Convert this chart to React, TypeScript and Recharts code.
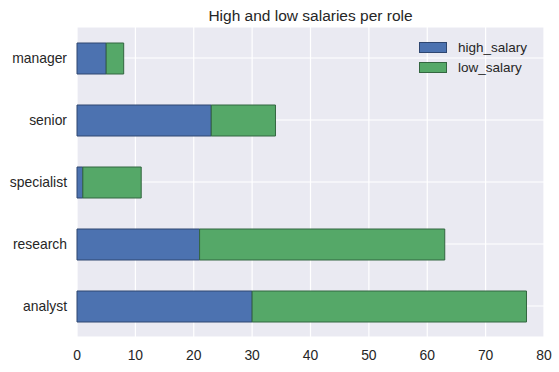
import React from "react";
import { Bar, BarChart, CartesianGrid, XAxis, YAxis } from "recharts";

const roles = ["manager", "senior", "specialist", "research", "analyst"];
const highSalary = [5, 23, 1, 21, 30];
const lowSalary = [3, 11, 10, 42, 47];
const xTicks = [0, 10, 20, 30, 40, 50, 60, 70, 80];

const data = roles.map((role, i) => ({
  role,
  high_salary: highSalary[i],
  low_salary: lowSalary[i],
}));

const FONT = "'Liberation Sans', Arial, sans-serif";
const TEXT = "#262626";

const series = [
  { key: "high_salary", fill: "#4C72B0", stroke: "#2e4670" },
  { key: "low_salary", fill: "#55A868", stroke: "#336640" },
];

// drawn as plain html on top of the plot, so it doesn't steal space from the bars
function SwatchLegend() {
  return (
    <div
      style={{
        position: "absolute",
        left: 419,
        top: 37,
        fontFamily: FONT,
        fontSize: 13.5,
        color: TEXT,
        zIndex: 2,
      }}
    >
      {series.map((s) => (
        <div key={s.key} style={{ display: "flex", alignItems: "center", height: 20 }}>
          <div
            style={{
              width: 26,
              height: 9,
              background: s.fill,
              border: `1px solid ${s.stroke}`,
              marginRight: 11,
            }}
          />
          <span>{s.key}</span>
        </div>
      ))}
    </div>
  );
}

export default function App() {
  return (
    <div
      style={{
        position: "fixed",
        left: 0,
        top: 0,
        width: 559,
        height: 372,
        background: "#fff",
      }}
    >
      <div
        style={{
          position: "absolute",
          left: 77,
          width: 467,
          top: 7,
          textAlign: "center",
          fontFamily: FONT,
          fontSize: 15.5,
          color: TEXT,
        }}
      >
        High and low salaries per role
      </div>
      <SwatchLegend />
      <BarChart
        width={559}
        height={372}
        data={data}
        layout="vertical"
        margin={{ top: 27, right: 15, bottom: 0, left: 0 }}
      >
        <CartesianGrid fill="#EAEAF2" stroke="#ffffff" strokeWidth={1.2} />
        <XAxis
          type="number"
          domain={[0, 80]}
          ticks={xTicks}
          axisLine={false}
          tickLine={false}
          height={35}
          tickMargin={7}
          tick={{ fill: TEXT, fontSize: 13.9, fontFamily: FONT }}
        />
        <YAxis
          type="category"
          dataKey="role"
          width={77}
          axisLine={false}
          tickLine={false}
          tickMargin={4}
          tick={{ fill: TEXT, fontSize: 13.9, fontFamily: FONT }}
        />
        {series.map((s) => (
          <Bar
            key={s.key}
            dataKey={s.key}
            stackId="salary"
            fill={s.fill}
            stroke={s.stroke}
            strokeWidth={1}
            barSize={31}
            isAnimationActive={false}
          />
        ))}
      </BarChart>
    </div>
  );
}
